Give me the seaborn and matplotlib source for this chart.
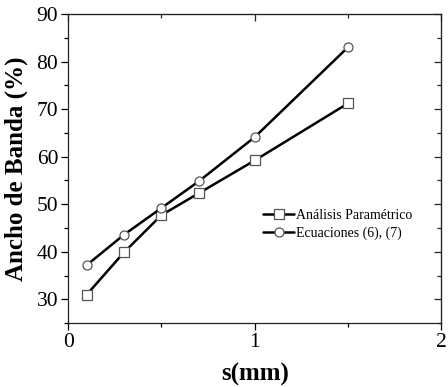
import numpy as np
import pandas as pd
import matplotlib
matplotlib.use("Agg")
import matplotlib.pyplot as plt
import seaborn as sns
from matplotlib.ticker import MultipleLocator

# Data
s_mm = [0.1, 0.3, 0.5, 0.7, 1.0, 1.5]
analisis = [31.0, 39.9, 47.7, 52.3, 59.2, 71.2]
ecuaciones = [37.2, 43.6, 49.2, 54.8, 64.1, 83.0]
labels = ["Análisis Paramétrico", "Ecuaciones (6), (7)"]

sns.set_style("ticks")
plt.rcParams['font.family'] = ['Liberation Serif', 'DejaVu Serif']
plt.rcParams['text.color'] = 'black'
plt.rcParams['axes.labelcolor'] = 'black'

fig = plt.figure(figsize=(4.48, 3.87), dpi=100)
ax = fig.add_axes([0.152, 0.165, 0.833, 0.799])

for vals, mk, lab in zip([analisis, ecuaciones], ["s", "o"], labels):
    sns.lineplot(x=s_mm, y=vals, ax=ax, color="black", lw=1.8, marker=mk,
                 markersize=6.5, markerfacecolor="white", markeredgecolor="#555555",
                 markeredgewidth=0.9, label=lab)

ax.set_xlim(0, 2)
ax.set_ylim(25, 90)
ax.xaxis.set_major_locator(MultipleLocator(1))
ax.xaxis.set_minor_locator(MultipleLocator(0.5))
ax.yaxis.set_major_locator(MultipleLocator(10))
ax.yaxis.set_minor_locator(MultipleLocator(5))
ax.tick_params(which="both", direction="out", top=False, right=False, colors="black",
               labelsize=15.5, width=0.9, pad=2)
ax.tick_params(which="major", length=5)
ax.tick_params(which="minor", length=3)
for sp in ax.spines.values():
    sp.set_visible(True)
    sp.set_linewidth(0.9)
    sp.set_color("#222222")

# inward ticks on top and right spines
ax_t = ax.secondary_xaxis("top")
ax_t.xaxis.set_major_locator(MultipleLocator(1))
ax_t.xaxis.set_minor_locator(MultipleLocator(0.5))
ax_t.tick_params(which="both", direction="in", labeltop=False, width=0.9)
ax_t.tick_params(which="major", length=5)
ax_t.tick_params(which="minor", length=3)
ax_r = ax.secondary_yaxis("right")
ax_r.yaxis.set_major_locator(MultipleLocator(10))
ax_r.yaxis.set_minor_locator(MultipleLocator(5))
ax_r.tick_params(which="both", direction="in", labelright=False, width=0.9)
ax_r.tick_params(which="major", length=5)
ax_r.tick_params(which="minor", length=3)

ax.set_xlabel("s(mm)", fontsize=18, fontweight="bold", labelpad=8)
ax.set_ylabel("Ancho de Banda (%)", fontsize=18, fontweight="bold", labelpad=6)

ax.legend(loc="upper left", bbox_to_anchor=(0.495, 0.40), frameon=False, fontsize=10,
          handlelength=2.3, handletextpad=0.1, labelspacing=0.3, borderpad=0.2)

fig.savefig("out.png", dpi=100)
